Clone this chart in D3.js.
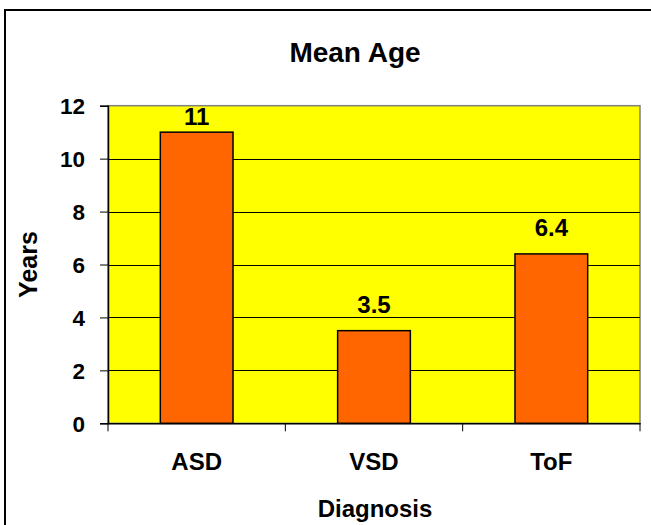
<!DOCTYPE html>
<html><head><meta charset="utf-8">
<script src="https://cdn.jsdelivr.net/npm/d3@7"></script>
<style>body{margin:0;background:#fff}svg{display:block}text{font-family:"Liberation Sans",Arial,sans-serif;font-weight:bold;fill:#000}</style>
</head><body>
<svg id="c" width="651" height="525"></svg>
<script>
const categories = ["ASD", "VSD", "ToF"];
const values = [11, 3.5, 6.4];
const valueLabels = ["11", "3.5", "6.4"];
const yTicks = [0, 2, 4, 6, 8, 10, 12];
const title = "Mean Age";
const xTitle = "Diagnosis";
const yTitle = "Years";

const svg = d3.select("#c");
const L = 108, R = 640, T = 105.7, B = 423.3;

// outer frame (extends beyond image on right/bottom)
svg.append("rect").attr("x", 5).attr("y", 10).attr("width", 660).attr("height", 540)
  .attr("fill", "none").attr("stroke", "#000").attr("stroke-width", 2);

const x = d3.scaleBand().domain(categories).range([L, R]).paddingInner(0.59).paddingOuter(0.295);
const xb = d3.scaleBand().domain(categories).range([L, R]);
const y = d3.scaleLinear().domain([0, 12]).range([B, T]);

svg.append("rect").attr("x", L).attr("y", T).attr("width", R - L).attr("height", B - T)
  .attr("fill", "#FFFF00").attr("stroke", "#808080").attr("stroke-width", 1.5);

svg.append("g").selectAll("line").data(yTicks.filter(d => d > 0 && d < 12)).join("line")
  .attr("x1", L).attr("x2", R).attr("y1", d => Math.round(y(d)) + 0.5).attr("y2", d => Math.round(y(d)) + 0.5)
  .attr("stroke", "#000").attr("stroke-width", 1);

svg.append("g").selectAll("rect").data(values).join("rect")
  .attr("x", (d, i) => x(categories[i])).attr("width", x.bandwidth())
  .attr("y", d => y(d)).attr("height", d => B - y(d))
  .attr("fill", "#FF6600").attr("stroke", "#000").attr("stroke-width", 1.5);

svg.append("g").selectAll("text").data(values).join("text")
  .attr("x", (d, i) => x(categories[i]) + x.bandwidth() / 2)
  .attr("y", d => Math.max(y(d) - 18, T + 19.5)).attr("text-anchor", "middle").attr("font-size", 24)
  .text((d, i) => valueLabels[i]);

// y axis
const ya = svg.append("g").attr("transform", `translate(${L},0)`)
  .call(d3.axisLeft(y).tickValues(yTicks).tickSize(8).tickPadding(15).tickFormat(d3.format("d")));
ya.select(".domain").attr("stroke", "#000").attr("stroke-width", 1.5);
ya.selectAll(".tick line").attr("stroke", "#000");
ya.selectAll("text").attr("font-size", 22.5).attr("font-family", null).attr("dy", "0.36em");

// x axis
const xa = svg.append("g").attr("transform", `translate(0,${B})`)
  .call(d3.axisBottom(xb).tickSize(0).tickPadding(47));
xa.select(".domain").attr("stroke", "#000").attr("stroke-width", 1.5);
xa.selectAll("text").attr("font-size", 24).attr("font-family", null).attr("dy", "0");
svg.append("g").selectAll("line").data(categories.map(c => xb(c)).concat([R])).join("line")
  .attr("x1", d => d).attr("x2", d => d).attr("y1", B).attr("y2", B + 8)
  .attr("stroke", "#000").attr("stroke-width", 1);

svg.append("text").attr("x", 355).attr("y", 62).attr("text-anchor", "middle").attr("font-size", 28).text(title);
svg.append("text").attr("x", 375).attr("y", 517).attr("text-anchor", "middle").attr("font-size", 24).text(xTitle);
svg.append("text").attr("transform", `translate(36.5,${(T + B) / 2}) rotate(-90)`).attr("text-anchor", "middle").attr("font-size", 25).text(yTitle);
</script>
</body></html>
